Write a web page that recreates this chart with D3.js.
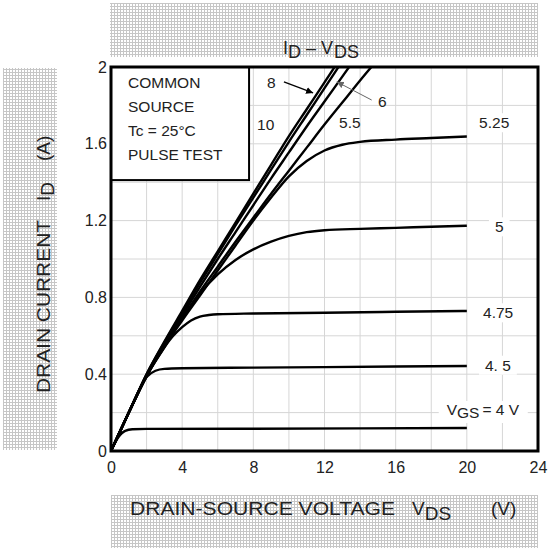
<!DOCTYPE html>
<html>
<head>
<meta charset="utf-8">
<script src="https://cdn.jsdelivr.net/npm/d3@7"></script>
<style>
    body { margin: 0; background: #fff; }
    svg text { font-family: "Liberation Sans", Arial, sans-serif; fill: #222; }
    .grid line { stroke: #d6d6d6; stroke-width: 1; }
    .curve { fill: none; stroke: #000; stroke-width: 2.4; stroke-linejoin: round; }
</style>
</head>
<body>
<script>
// axis ticks
var xTicks = [0, 4, 8, 12, 16, 20, 24],
    yTicks = [0, 0.4, 0.8, 1.2, 1.6, 2],
    yTickLabels = ["0", "0.4", "0.8", "1.2", "1.6", "2"];

// ID (A) vs VDS (V), one array per gate voltage
var vgs10 = [[0, 0], [1, 0.2], [2, 0.4], [3, 0.57], [4, 0.73], [5, 0.89], [6, 1.04], [7, 1.19],
             [8, 1.34], [9, 1.49], [10, 1.64], [11, 1.78], [12, 1.92], [13, 2.06]];
var vgs8 = [[0, 0], [1, 0.2], [2, 0.4], [3, 0.565], [4, 0.72], [5, 0.875], [6, 1.025], [7, 1.175],
            [8, 1.32], [9, 1.465], [10, 1.61], [11, 1.75], [12, 1.89], [13, 2.03]];
var vgs6 = [[0, 0], [1, 0.2], [2, 0.395], [3, 0.555], [4, 0.705], [5, 0.855], [6, 1.0], [7, 1.14],
            [8, 1.28], [9, 1.42], [10, 1.555], [11, 1.69], [12, 1.82], [13, 1.95], [14, 2.08]];
var vgs55 = [[0, 0], [1, 0.2], [2, 0.39], [3, 0.55], [4, 0.69], [5, 0.83], [6, 0.96], [7, 1.09],
             [8, 1.215], [9, 1.34], [10, 1.46], [11, 1.58], [12, 1.7], [13, 1.815], [14, 1.93], [15, 2.04]];
var vgs525 = [[0, 0], [1, 0.2], [2, 0.39], [3, 0.545], [4, 0.68], [5, 0.81], [6, 0.94], [7, 1.07],
              [8, 1.2], [9, 1.32], [10, 1.43], [11, 1.51], [12, 1.565], [13, 1.595], [14, 1.61],
              [16, 1.622], [18, 1.63], [20, 1.638]];
var vgs5 = [[0, 0], [1, 0.2], [2, 0.39], [3, 0.54], [4, 0.69], [5, 0.82], [6, 0.92], [7, 0.995],
            [8, 1.05], [9, 1.09], [10, 1.12], [11, 1.14], [12, 1.15], [14, 1.157],
            [16, 1.162], [18, 1.168], [20, 1.173]];
var vgs475 = [[0, 0], [1, 0.2], [2, 0.39], [3, 0.54], [3.5, 0.6], [4, 0.645], [4.5, 0.68], [5, 0.7],
              [5.5, 0.708], [6, 0.712], [8, 0.716], [12, 0.72], [16, 0.725], [20, 0.729]];
var vgs45 = [[0, 0], [1, 0.2], [1.5, 0.3], [2, 0.385], [2.5, 0.418], [3, 0.428], [4, 0.431],
             [8, 0.434], [12, 0.437], [16, 0.44], [20, 0.443]];
var vgs4 = [[0, 0], [0.4, 0.07], [0.8, 0.105], [1.2, 0.113], [2, 0.115], [8, 0.116], [14, 0.118], [20, 0.12]];

var series = [vgs10, vgs8, vgs6, vgs55, vgs525, vgs5, vgs475, vgs45, vgs4];

// curve labels, anchored in data units (V, A)
var curveLabels = [
    {text: "8", v: 8.77, a: 1.891},
    {text: "10", v: 8.21, a: 1.672},
    {text: "6", v: 15.01, a: 1.79},
    {text: "5.5", v: 12.82, a: 1.681},
    {text: "5.25", v: 20.69, a: 1.681, bg: true},
    {text: "5", v: 21.58, a: 1.139, bg: true},
    {text: "4.75", v: 20.91, a: 0.691, bg: true},
    {text: "4. 5", v: 21.02, a: 0.418, bg: true}
];
var arrows = [
    {from: [9.72, 1.922], to: [11.36, 1.865], color: "#000", w: 1.3, marker: "arrowBlack"},
    {from: [14.65, 1.828], to: [12.69, 1.923], color: "#666", w: 1, marker: "arrowGray"}
];
var noteLines = ["COMMON", "SOURCE", "Tc = 25\u00b0C", "PULSE TEST"];

var width = 549, height = 548,
    margins = {top: 67, left: 111, right: 11, bottom: 97};

var x = d3.scaleLinear().domain([0, 24]).range([margins.left, width - margins.right]);
var y = d3.scaleLinear().domain([0, 2]).range([height - margins.bottom, margins.top]);

var svg = d3.select("body").append("svg")
    .attr("width", width)
    .attr("height", height);

var defs = svg.append("defs");

var pat = defs.append("pattern")
    .attr("id", "hatch")
    .attr("patternUnits", "userSpaceOnUse")
    .attr("width", 3)
    .attr("height", 3);
pat.append("rect").attr("width", 3).attr("height", 3).attr("fill", "#fff");
pat.append("rect").attr("width", 1).attr("height", 3).attr("fill", "#c6c6c6");
pat.append("rect").attr("width", 3).attr("height", 1).attr("fill", "#c6c6c6");

defs.append("clipPath")
    .attr("id", "plot-clip")
    .append("rect")
    .attr("x", x(0))
    .attr("y", y(2))
    .attr("width", x(24) - x(0))
    .attr("height", y(0) - y(2));

[["arrowBlack", "#000"], ["arrowGray", "#666"]].forEach(function(m) {
    defs.append("marker")
        .attr("id", m[0])
        .attr("viewBox", "0 0 10 10")
        .attr("refX", 10)
        .attr("refY", 5)
        .attr("markerWidth", 7)
        .attr("markerHeight", 7)
        .attr("markerUnits", "userSpaceOnUse")
        .attr("orient", "auto")
        .append("path")
        .attr("d", "M0,0 L10,5 L0,10 z")
        .attr("fill", m[1]);
});

// hatched title bands
svg.append("rect")
    .attr("x", x(0) - 1).attr("y", 3)
    .attr("width", x(24) - x(0) + 1).attr("height", 54)
    .attr("fill", "url(#hatch)");
svg.append("rect")
    .attr("x", 3).attr("y", y(2) + 1)
    .attr("width", 54).attr("height", y(0) - y(2) - 2)
    .attr("fill", "url(#hatch)");
svg.append("rect")
    .attr("x", x(0)).attr("y", 495)
    .attr("width", x(24) - x(0)).attr("height", 53)
    .attr("fill", "url(#hatch)");

// grid
var grid = svg.append("g").attr("class", "grid");
grid.selectAll("line.v")
    .data(d3.range(2, 24, 2))
    .enter().append("line")
    .attr("class", "v")
    .attr("x1", function(d) { return x(d); })
    .attr("x2", function(d) { return x(d); })
    .attr("y1", y(0))
    .attr("y2", y(2));
grid.selectAll("line.h")
    .data(d3.range(0.2, 2, 0.2))
    .enter().append("line")
    .attr("class", "h")
    .attr("x1", x(0))
    .attr("x2", x(24))
    .attr("y1", function(d) { return y(d); })
    .attr("y2", function(d) { return y(d); });

// axes (labels only, frame drawn separately)
var xAxis = d3.axisBottom(x).tickValues(xTicks).tickSize(0).tickPadding(11);
var yAxis = d3.axisLeft(y).tickValues(yTicks).tickSize(0).tickPadding(4)
    .tickFormat(function(d, i) { return yTickLabels[i]; });

svg.append("g")
    .attr("transform", "translate(0," + y(0) + ")")
    .call(xAxis)
    .call(function(g) { g.select(".domain").remove(); });
svg.append("g")
    .attr("transform", "translate(" + x(0) + ",0)")
    .call(yAxis)
    .call(function(g) { g.select(".domain").remove(); });
svg.selectAll(".tick text")
    .attr("font-size", 16)
    .attr("font-family", "Liberation Sans, Arial, sans-serif")
    .attr("fill", "#222");

// curves
var line = d3.line()
    .x(function(d) { return x(d[0]); })
    .y(function(d) { return y(d[1]); })
    .curve(d3.curveMonotoneX);

svg.append("g")
    .attr("clip-path", "url(#plot-clip)")
    .selectAll("path.curve")
    .data(series)
    .enter().append("path")
    .attr("class", "curve")
    .attr("d", line);

// inset note box
svg.append("rect")
    .attr("x", x(0))
    .attr("y", y(2))
    .attr("width", x(7.76) - x(0))
    .attr("height", y(1.411) - y(2))
    .attr("fill", "#fff")
    .attr("stroke", "#000")
    .attr("stroke-width", 2);

svg.append("g").selectAll("text")
    .data(noteLines)
    .enter().append("text")
    .attr("x", x(0) + 17)
    .attr("y", function(d, i) { return y(2) + 21 + i * 24; })
    .attr("font-size", 15.5)
    .text(function(d) { return d; });

// frame
svg.append("rect")
    .attr("x", x(0))
    .attr("y", y(2))
    .attr("width", x(24) - x(0))
    .attr("height", y(0) - y(2))
    .attr("fill", "none")
    .attr("stroke", "#000")
    .attr("stroke-width", 3);

// curve labels
var labelG = svg.append("g");
curveLabels.forEach(function(l) {
    var t = labelG.append("text")
        .attr("x", x(l.v))
        .attr("y", y(l.a))
        .attr("font-size", 15.5)
        .text(l.text);
    if (l.bg) {
        var b = t.node().getBBox();
        labelG.insert("rect", function() { return t.node(); })
            .attr("x", b.x - 6).attr("y", b.y - 1)
            .attr("width", b.width + 12).attr("height", b.height + 2)
            .attr("fill", "#fff");
    }
});

var vgs = labelG.append("text")
    .attr("x", x(18.87))
    .attr("y", y(0.1875))
    .attr("font-size", 15.5);
vgs.append("tspan").text("V");
vgs.append("tspan").attr("dy", 3).text("GS");
vgs.append("tspan").attr("dy", -3).attr("dx", 3).text("= 4 V");
var vb = vgs.node().getBBox();
labelG.insert("rect", function() { return vgs.node(); })
    .attr("x", vb.x - 8).attr("y", vb.y)
    .attr("width", vb.width + 16).attr("height", vb.height + 2)
    .attr("fill", "#fff");

svg.append("g").selectAll("line")
    .data(arrows)
    .enter().append("line")
    .attr("x1", function(d) { return x(d.from[0]); })
    .attr("y1", function(d) { return y(d.from[1]); })
    .attr("x2", function(d) { return x(d.to[0]); })
    .attr("y2", function(d) { return y(d.to[1]); })
    .attr("stroke", function(d) { return d.color; })
    .attr("stroke-width", function(d) { return d.w; })
    .attr("marker-end", function(d) { return "url(#" + d.marker + ")"; });

// title
var title = svg.append("text")
    .attr("y", 54)
    .attr("font-size", 18);
title.append("tspan").attr("x", 283).text("I");
title.append("tspan").attr("x", 288).attr("dy", 4).text("D");
title.append("tspan").attr("x", 306).attr("dy", -4).text("\u2013");
title.append("tspan").attr("x", 321).text("V");
title.append("tspan").attr("x", 334).attr("dy", 4).text("DS");

// x axis title
var xt = svg.append("g").attr("font-size", 19);
xt.append("text")
    .attr("x", 130).attr("y", 515)
    .attr("textLength", 265).attr("lengthAdjust", "spacingAndGlyphs")
    .text("DRAIN-SOURCE VOLTAGE");
xt.append("text").attr("x", 412).attr("y", 515).text("V")
    .append("tspan").attr("dy", 5).text("DS");
xt.append("text").attr("x", 491).attr("y", 515).text("(V)");

// y axis title
var yt = svg.append("g")
    .attr("transform", "translate(50,0) rotate(-90)")
    .attr("font-size", 19);
yt.append("text")
    .attr("x", -393).attr("y", 0)
    .attr("textLength", 173).attr("lengthAdjust", "spacingAndGlyphs")
    .text("DRAIN CURRENT");
yt.append("text").attr("x", -201).attr("y", 0).text("I")
    .append("tspan").attr("dy", 4).text("D");
yt.append("text").attr("x", -161).attr("y", 0).text("(A)");
</script>
</body>
</html>
